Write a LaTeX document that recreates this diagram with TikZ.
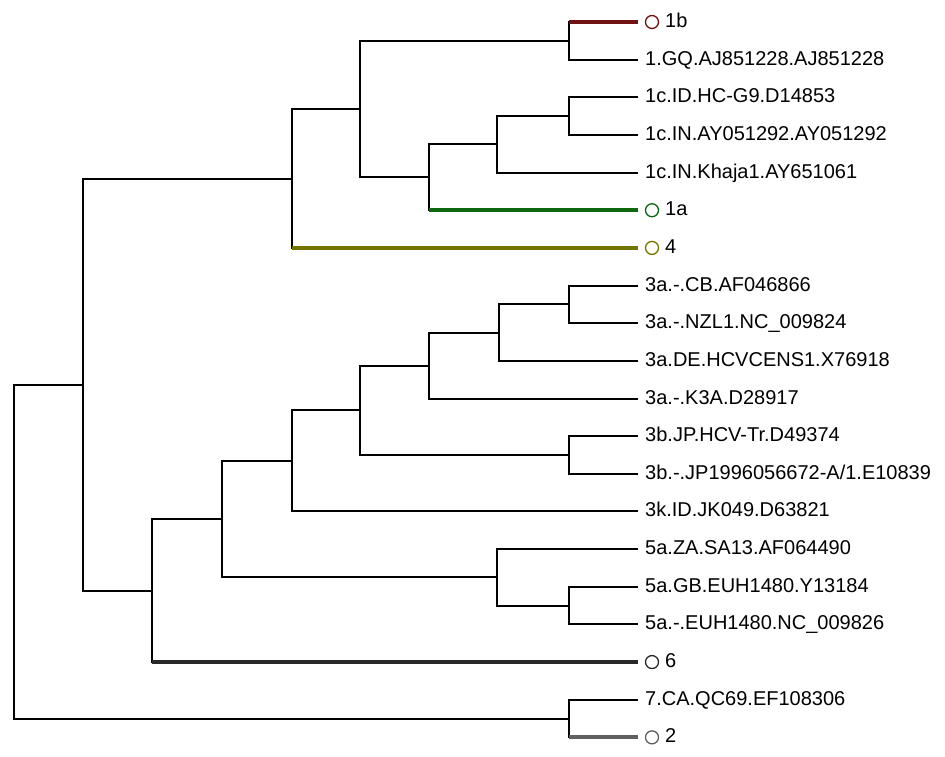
\documentclass[tikz,border=0pt]{standalone}
\usepackage{fontspec}
\setmainfont{Liberation Sans}
\usetikzlibrary{calc}

\definecolor{col1b}{RGB}{112,18,18}
\definecolor{col1a}{RGB}{14,104,14}
\definecolor{col4}{RGB}{116,116,0}
\definecolor{col6}{RGB}{40,40,40}
\definecolor{col2}{RGB}{96,96,96}

\begin{document}
\begin{tikzpicture}[x=1pt,y=-1pt,
  branch/.style={black, line width=2pt},
  thickbranch/.style={line width=3.8pt},
  tip/.style={anchor=base west, inner sep=0pt, font=\fontsize{20}{22}\selectfont},
  ring/.style={circle, draw, line width=1.3pt, minimum size=13pt, inner sep=0pt}]
\useasboundingbox (0,0) rectangle (945,757);

% leaf tips
\foreach \i in {0,...,19}
  \coordinate (l\i) at (638,{22+37.65*\i});

% inner nodes
\coordinate (a) at (569,40.8);
\coordinate (b) at (569,116.1);
\coordinate (c) at (497,144.4);
\coordinate (d) at (429,177.3);
\coordinate (e) at (360,109.1);
\coordinate (f) at (292,178.5);
\coordinate (g) at (569,304.4);
\coordinate (h) at (499,332.6);
\coordinate (i) at (429,365.6);
\coordinate (j) at (569,455.0);
\coordinate (k) at (360,410.3);
\coordinate (m) at (292,460.9);
\coordinate (n) at (569,605.6);
\coordinate (o) at (497,577.4);
\coordinate (p) at (222,519.1);
\coordinate (q) at (152,590.6);
\coordinate (r) at (83,384.5);
\coordinate (s) at (569,718.5);
\coordinate (root) at (14,551.5);

\draw[branch] (l0) -| (a) |- (l1);
\draw[branch] (l2) -| (b) |- (l3);
\draw[branch] (b) -| (c) |- (l4);
\draw[branch] (c) -| (d) |- (l5);
\draw[branch] (a) -| (e) |- (d);
\draw[branch] (e) -| (f) |- (l6);
\draw[branch] (l7) -| (g) |- (l8);
\draw[branch] (g) -| (h) |- (l9);
\draw[branch] (h) -| (i) |- (l10);
\draw[branch] (l11) -| (j) |- (l12);
\draw[branch] (i) -| (k) |- (j);
\draw[branch] (k) -| (m) |- (l13);
\draw[branch] (l15) -| (n) |- (l16);
\draw[branch] (l14) -| (o) |- (n);
\draw[branch] (m) -| (p) |- (o);
\draw[branch] (p) -| (q) |- (l17);
\draw[branch] (f) -| (r) |- (q);
\draw[branch] (l18) -| (s) |- (l19);
\draw[branch] (r) -| (root) |- (s);

% collapsed groups
\draw[thickbranch, col1b] (a |- l0) -- (l0);
\draw[thickbranch, col1a] (d |- l5) -- (l5);
\draw[thickbranch, col4] (f |- l6) -- (l6);
\draw[thickbranch, col6] (q |- l17) -- (l17);
\draw[thickbranch, col2] (s |- l19) -- (l19);

\node[ring, col1b] (r1b) at ($(l0)+(14,0)$) {};
\node[ring, col1a] (r1a) at ($(l5)+(14,0)$) {};
\node[ring, col4] (r4) at ($(l6)+(14,0)$) {};
\node[ring, col6] (r6) at ($(l17)+(14,0)$) {};
\node[ring, col2] (r2) at ($(l19)+(14,0)$) {};

\node[tip] (t0) at ($(l0)+(27,5.5)$) {1b};
\node[tip] (t1) at ($(l1)+(7,5.5)$) {1.GQ.AJ851228.AJ851228};
\node[tip] (t2) at ($(l2)+(7,5.5)$) {1c.ID.HC-G9.D14853};
\node[tip] (t3) at ($(l3)+(7,5.5)$) {1c.IN.AY051292.AY051292};
\node[tip] (t4) at ($(l4)+(7,5.5)$) {1c.IN.Khaja1.AY651061};
\node[tip] (t5) at ($(l5)+(27,5.5)$) {1a};
\node[tip] (t6) at ($(l6)+(27,5.5)$) {4};
\node[tip] (t7) at ($(l7)+(7,5.5)$) {3a.-.CB.AF046866};
\node[tip] (t8) at ($(l8)+(7,5.5)$) {3a.-.NZL1.NC\_009824};
\node[tip] (t9) at ($(l9)+(7,5.5)$) {3a.DE.HCVCENS1.X76918};
\node[tip] (t10) at ($(l10)+(7,5.5)$) {3a.-.K3A.D28917};
\node[tip] (t11) at ($(l11)+(7,5.5)$) {3b.JP.HCV-Tr.D49374};
\node[tip] (t12) at ($(l12)+(7,5.5)$) {3b.-.JP1996056672-A/1.E10839};
\node[tip] (t13) at ($(l13)+(7,5.5)$) {3k.ID.JK049.D63821};
\node[tip] (t14) at ($(l14)+(7,5.5)$) {5a.ZA.SA13.AF064490};
\node[tip] (t15) at ($(l15)+(7,5.5)$) {5a.GB.EUH1480.Y13184};
\node[tip] (t16) at ($(l16)+(7,5.5)$) {5a.-.EUH1480.NC\_009826};
\node[tip] (t17) at ($(l17)+(27,5.5)$) {6};
\node[tip] (t18) at ($(l18)+(7,5.5)$) {7.CA.QC69.EF108306};
\node[tip] (t19) at ($(l19)+(27,5.5)$) {2};

\end{tikzpicture}
\end{document}
